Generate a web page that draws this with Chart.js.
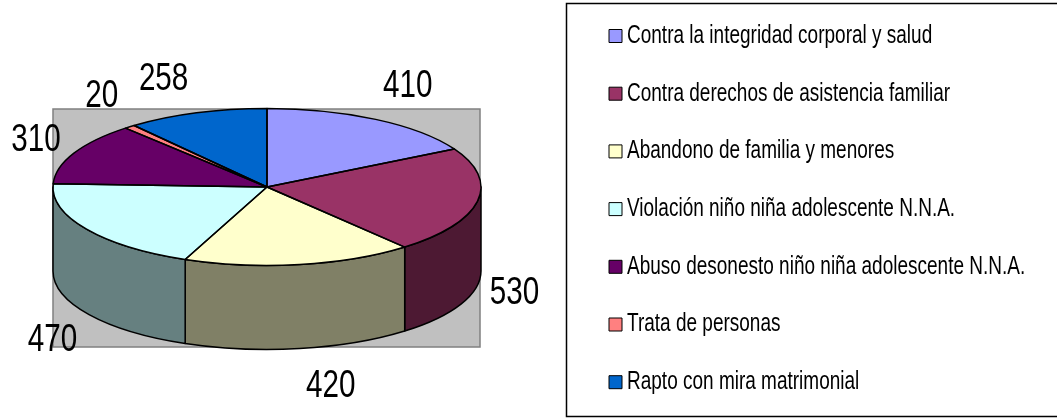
<!DOCTYPE html>
<html>
<head>
<meta charset="utf-8">
<style>html,body{margin:0;padding:0;background:#fff;overflow:hidden}canvas{display:block}</style>
<script src="https://cdn.jsdelivr.net/npm/chart.js@4/dist/chart.umd.js"></script>
</head>
<body>
<canvas id="c" width="1057" height="418"></canvas>
<script>
const categories = [
  "Contra la integridad corporal y salud",
  "Contra derechos de asistencia familiar",
  "Abandono de familia y menores",
  "Violación niño niña adolescente N.N.A.",
  "Abuso desonesto niño niña adolescente N.N.A.",
  "Trata de personas",
  "Rapto con mira matrimonial"
];
const values = [410, 530, 420, 470, 310, 20, 258];
const topColors = ["#9999FF", "#993366", "#FFFFCC", "#CCFFFF", "#660066", "#FF8080", "#0066CC"];
const wallColors = ["#4D4D80", "#4D1933", "#808066", "#668080", "#330033", "#804040", "#003366"];

const FONT = "'Liberation Sans',Arial,sans-serif";
const NARROW = 0.76;
const PIE = {cx: 267, cy: 187, rx: 214, ry: 78.5, depth: 84};
const PLOT = {l: 53, t: 109, r: 480, b: 347};
const labelNudge = [[-1, -2], [4, -7], [-2, 3], [-1, 4], [-5, 8], [5, -1], [0, 0]];

function narrowText(c, text, x, y) {
  c.save();
  c.translate(x, y);
  c.scale(NARROW, 1);
  c.fillText(text, 0, 0);
  c.restore();
}

const pie3d = {
  id: 'pie3d',
  beforeLayout(chart) {
    const lg = chart.legend;
    if (lg && !lg._tallFit) {
      const fit = lg.fit, draw = lg.draw;
      lg.fit = function () { this.maxHeight = 1000; fit.call(this); };
      lg.draw = function () {
        const c = this.ctx, orig = c.fillText;
        c.fillText = function (t, x, y) {
          c.save();
          c.translate(x - 1.5, y);
          c.scale(NARROW, 1);
          orig.call(c, t, 0, 0);
          c.restore();
        };
        draw.call(this);
        delete c.fillText;
      };
      lg._tallFit = true;
    }
  },
  afterLayout(chart) {
    const lg = chart.legend, pad = chart.options.plugins.legend.labels.padding;
    lg.left = 615 - pad;
    lg.top = 23.5 - pad;
    lg.bottom = 460;
  },
  beforeDraw(chart) {
    const c = chart.ctx;
    c.save();
    c.fillStyle = '#C0C0C0';
    c.fillRect(PLOT.l, PLOT.t, PLOT.r - PLOT.l, PLOT.b - PLOT.t);
    c.strokeStyle = '#808080'; c.lineWidth = 1.5;
    c.strokeRect(PLOT.l, PLOT.t, PLOT.r - PLOT.l, PLOT.b - PLOT.t);
    c.strokeStyle = '#000'; c.lineWidth = 1.5;
    c.beginPath();
    c.moveTo(1062, 3.5); c.lineTo(566.5, 3.5); c.lineTo(566.5, 416.5); c.lineTo(1062, 416.5);
    c.stroke();
    c.restore();
  },
  beforeDatasetsDraw(chart) {
    const c = chart.ctx, arcs = chart.getDatasetMeta(0).data;
    const {cx, cy, rx, ry, depth} = PIE;
    c.save();
    c.lineWidth = 1.5; c.strokeStyle = '#000'; c.lineJoin = 'round';
    arcs.forEach((a, i) => {
      const s = Math.max(a.startAngle, 0), e = Math.min(a.endAngle, Math.PI);
      if (s >= e) return;
      c.beginPath();
      c.ellipse(cx, cy + depth, rx, ry, 0, s, e);
      c.ellipse(cx, cy, rx, ry, 0, e, s, true);
      c.closePath();
      c.fillStyle = wallColors[i];
      c.fill(); c.stroke();
    });
    c.restore();
    const a0 = arcs[0], R = a0.outerRadius;
    c.save();
    c.translate(cx, cy);
    c.scale(rx / R, ry / R);
    c.translate(-a0.x, -a0.y);
  },
  afterDatasetsDraw(chart) {
    const c = chart.ctx, arcs = chart.getDatasetMeta(0).data;
    const {cx, cy, rx, ry, depth} = PIE;
    c.restore();
    c.save();
    c.lineWidth = 1.5; c.strokeStyle = '#000'; c.lineJoin = 'round';
    arcs.forEach(a => {
      c.beginPath();
      c.moveTo(cx, cy);
      c.ellipse(cx, cy, rx, ry, 0, a.startAngle, a.endAngle);
      c.closePath();
      c.stroke();
    });
    c.fillStyle = '#000';
    c.font = "39px " + FONT;
    c.textAlign = 'center'; c.textBaseline = 'middle';
    arcs.forEach((a, i) => {
      const m = (a.startAngle + a.endAngle) / 2, co = Math.cos(m), si = Math.sin(m);
      const x = cx + rx * co + Math.sign(co) * 33 + labelNudge[i][0];
      const y = cy + ry * si + (si > 0 ? depth : 0) + Math.sign(si) * (10 + 25 * Math.abs(si)) + labelNudge[i][1];
      narrowText(c, String(values[i]), x, y);
    });
    c.restore();
  }
};

new Chart(document.getElementById('c'), {
  type: 'pie',
  data: {
    labels: categories,
    datasets: [{data: values, backgroundColor: topColors, borderWidth: 0}]
  },
  options: {
    responsive: false,
    animation: false,
    plugins: {
      tooltip: {enabled: false},
      legend: {
        position: 'right',
        align: 'start',
        labels: {
          font: {family: FONT, size: 25},
          color: '#000',
          usePointStyle: true,
          pointStyle: 'rect',
          boxWidth: 1,
          boxHeight: 13,
          padding: 32.7,
          generateLabels(chart) {
            return Chart.overrides.pie.plugins.legend.labels.generateLabels(chart).map(l => {
              l.lineWidth = 1; l.strokeStyle = '#000'; return l;
            });
          }
        }
      }
    }
  },
  plugins: [pie3d]
});
</script>
</body>
</html>
